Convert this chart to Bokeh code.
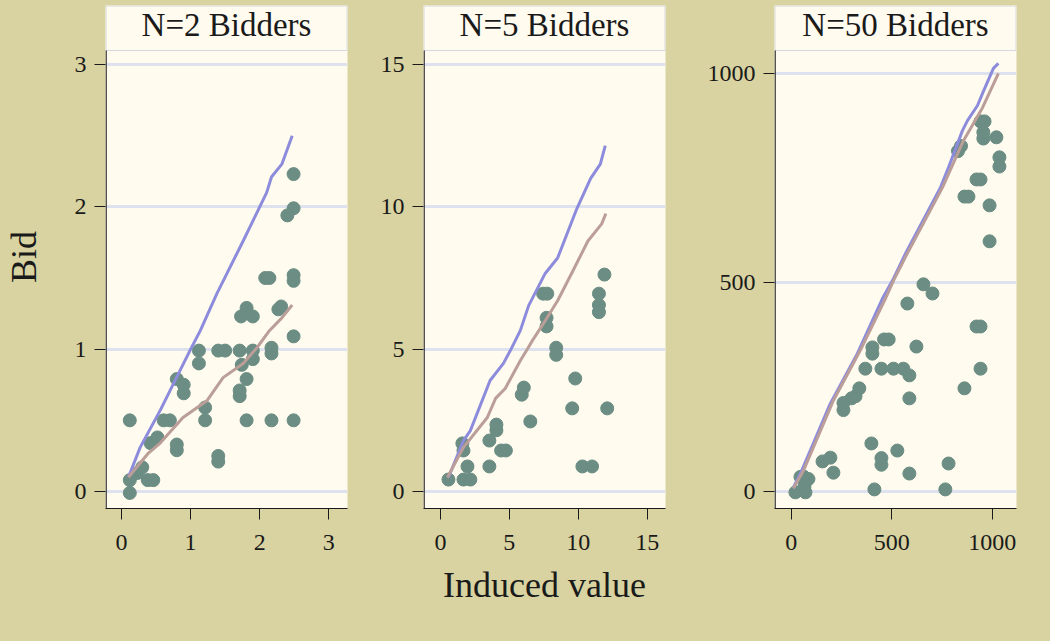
from bokeh.plotting import figure
from bokeh.layouts import row
from bokeh.models import FixedTicker, Range1d
from bokeh.core.properties import value
from bokeh.embed import file_html
from bokeh.resources import INLINE

# ---------------- data ----------------
titles = ["N=2 Bidders", "N=5 Bidders", "N=50 Bidders"]

p1_value = [0.12, 0.12, 0.12, 0.23, 0.30, 0.38, 0.46, 0.42, 0.52, 0.61, 0.70, 0.80, 0.80, 0.80,
            0.90, 0.90, 1.12, 1.12, 1.21, 1.21, 1.40, 1.40, 1.40, 1.50, 1.71, 1.74, 1.81, 1.71,
            1.71, 1.81, 1.90, 1.90, 2.17, 2.17, 2.17, 2.49, 2.49, 2.49, 2.49, 2.40, 2.08, 2.14,
            2.49, 2.49, 1.81, 1.73, 1.90, 2.27, 2.31]
p1_bid = [0.50, -0.01, 0.08, 0.13, 0.17, 0.08, 0.08, 0.34, 0.38, 0.50, 0.50, 0.29, 0.33, 0.79,
          0.75, 0.69, 0.99, 0.90, 0.59, 0.50, 0.21, 0.25, 0.99, 0.99, 0.99, 0.89, 0.79, 0.67,
          0.71, 0.50, 0.99, 0.93, 0.97, 1.01, 0.50, 0.50, 1.09, 2.23, 1.99, 1.94, 1.50, 1.50,
          1.48, 1.52, 1.29, 1.23, 1.23, 1.28, 1.30]
p1_line1_x = [0.10, 0.27, 0.56, 0.99, 1.14, 1.38, 1.76, 1.90, 2.10, 2.17, 2.32, 2.47]
p1_line1_y = [0.10, 0.31, 0.57, 0.99, 1.13, 1.39, 1.76, 1.90, 2.10, 2.21, 2.30, 2.50]
p1_line2_x = [0.10, 0.27, 0.39, 0.56, 0.89, 1.24, 1.47, 1.76, 1.96, 2.14, 2.32, 2.47]
p1_line2_y = [0.10, 0.20, 0.27, 0.34, 0.52, 0.64, 0.80, 0.90, 1.01, 1.13, 1.22, 1.31]

p2_value = [0.58, 1.59, 1.67, 1.96, 1.67, 2.17, 3.55, 3.55, 4.06, 4.06, 4.40, 4.75, 5.90, 6.05,
            6.52, 8.40, 8.40, 9.78, 9.56, 12.1, 10.3, 11.0, 7.45, 7.75, 7.70, 7.70, 11.9, 11.5,
            11.5, 11.5]
p2_bid = [0.42, 1.69, 1.44, 0.88, 0.42, 0.42, 1.79, 0.88, 2.15, 2.35, 1.44, 1.44, 3.40, 3.65,
          2.46, 4.80, 5.05, 3.97, 2.92, 2.92, 0.88, 0.88, 6.95, 6.95, 5.80, 6.10, 7.62, 6.95,
          6.30, 6.55]
p2_line1_x = [0.58, 1.67, 2.17, 3.60, 4.57, 5.07, 5.80, 6.40, 7.60, 8.50, 9.90, 10.9, 11.6, 11.96]
p2_line1_y = [0.49, 1.79, 2.14, 3.90, 4.50, 4.95, 5.66, 6.53, 7.66, 8.20, 9.94, 11.0, 11.5, 12.15]
p2_line2_x = [0.50, 1.67, 3.40, 4.00, 4.70, 5.80, 6.30, 6.67, 7.60, 8.50, 9.56, 10.7, 11.7, 12.0]
p2_line2_y = [0.49, 1.55, 2.60, 3.27, 3.62, 4.60, 5.00, 5.30, 6.00, 6.70, 7.70, 8.80, 9.40, 9.76]

p3_value = [21, 71, 71, 46, 86, 66, 61, 156, 195, 210, 260, 260, 300, 320, 339, 369, 404, 404,
            462, 485, 449, 509, 558, 588, 588, 623, 578, 658, 703, 399, 449, 449, 528, 588, 414,
            767, 783, 862, 922, 942, 942, 942, 962, 956, 956, 1021, 1036, 1036, 830, 845, 922,
            942, 862, 882, 987, 987]
p3_bid = [-2, -2, 26, 35, 30, 12, 36, 72, 81, 45, 195, 212, 223, 228, 247, 294, 330, 345, 364,
          364, 294, 294, 294, 278, 223, 347, 450, 496, 474, 115, 64, 80, 98, 43, 5, 5, 67, 247,
          395, 395, 294, 886, 886, 845, 860, 848, 800, 778, 815, 827, 747, 747, 706, 706, 685,
          599]
p3_line1_x = [11, 46, 195, 329, 454, 504, 569, 743, 783, 852, 877, 927, 952, 1006, 1031]
p3_line1_y = [10, 43, 211, 330, 462, 505, 570, 728, 776, 864, 888, 924, 953, 1013, 1025]
p3_line2_x = [11, 61, 210, 344, 469, 509, 578, 753, 857, 952, 1031]
p3_line2_y = [7, 50, 218, 338, 462, 505, 570, 728, 840, 919, 1001]

p1_xticks = [0, 1, 2, 3]
p1_yticks = [0, 1, 2, 3]
p2_xticks = [0, 5, 10, 15]
p2_yticks = [0, 5, 10, 15]
p3_xticks = [0, 500, 1000]
p3_yticks = [0, 500, 1000]

# ---------------- style ----------------
FONT = "Liberation Serif"
BG = "#d8d3a0"
PANEL = "#fffbef"
GRID = "#dde2ee"
STRIP_LINE = "#d3d8e2"
DOT = "#6b8d83"
BLUE = "#8d8cdc"
BROWN = "#bb9e98"
INK = "#1a1a1a"

FIG_H = 641
TOP = 5          # strip starts here
BOTTOM = 133     # space below the plot frame
FRAME_W = 242
FRAME_H = FIG_H - TOP - BOTTOM
STRIP_H = 45
BASELINE = 19    # title baseline below frame top


def make_panel(title, xs, ys, l1x, l1y, l2x, l2y, xr, yr, xt, yt, width, bl, br,
               xlabel=None, ylabel=None):
    x0, x1 = xr
    y0, y1 = yr
    ppx = (x1 - x0) / FRAME_W
    ppy = (y1 - y0) / FRAME_H
    strip_bottom = y1 - STRIP_H * ppy

    p = figure(width=width, height=FIG_H, x_range=Range1d(x0, x1), y_range=Range1d(y0, y1),
               toolbar_location=None, output_backend="svg", title=None,
               min_border_left=bl, min_border_right=br, min_border_top=TOP,
               min_border_bottom=BOTTOM)
    p.background_fill_color = PANEL
    p.border_fill_color = BG
    p.outline_line_color = None
    p.xgrid.visible = False
    p.ygrid.grid_line_color = GRID
    p.ygrid.grid_line_width = 3
    p.xaxis.ticker = FixedTicker(ticks=xt)
    p.yaxis.ticker = FixedTicker(ticks=yt)
    for ax in (p.xaxis, p.yaxis):
        ax.axis_line_color = INK
        ax.axis_line_width = 1
        ax.major_tick_line_color = INK
        ax.major_tick_out = 11
        ax.major_tick_in = 0
        ax.minor_tick_line_color = None
        ax.major_label_text_font = FONT
        ax.major_label_text_font_size = "24px"
        ax.major_label_text_color = INK
        ax.axis_label_text_font = FONT
        ax.axis_label_text_font_size = "36px"
        ax.axis_label_text_font_style = "normal"
        ax.axis_label_text_color = INK
    p.xaxis.major_label_standoff = 15
    p.yaxis.major_label_standoff = 8
    p.yaxis.axis_line_color = None
    if xlabel:
        p.xaxis.axis_label = xlabel
        p.xaxis.axis_label_standoff = 12
    if ylabel:
        p.yaxis.axis_label = ylabel
        p.yaxis.axis_label_standoff = 28

    # title strip
    p.quad(left=[x0 + 0.5 * ppx], right=[x1 - 0.5 * ppx], bottom=[strip_bottom],
           top=[y1 - 0.5 * ppy], fill_color=PANEL, line_color=STRIP_LINE, line_width=1)
    p.text(x=[(x0 + x1) / 2], y=[y1 - BASELINE * ppy], text=[title], text_font=value(FONT),
           text_font_size="33px", text_align="center", text_baseline="alphabetic",
           text_color=INK)
    # y axis line (below the strip only)
    p.segment(x0=[x0 + 0.6 * ppx], y0=[y0], x1=[x0 + 0.6 * ppx], y1=[strip_bottom],
              line_color=INK, line_width=1.3)

    p.scatter(xs, ys, size=13, color=DOT, line_color=DOT)
    p.line(l1x, l1y, line_color=BLUE, line_width=3, line_join="round")
    p.line(l2x, l2y, line_color=BROWN, line_width=3, line_join="round")
    return p


f1 = make_panel(titles[0], p1_value, p1_bid, p1_line1_x, p1_line1_y, p1_line2_x, p1_line2_y,
                (-0.2315, 3.27), (-0.1194, 3.4146), p1_xticks, p1_yticks, 375, 105, 28,
                ylabel="Bid")
f2 = make_panel(titles[1], p2_value, p2_bid, p2_line1_x, p2_line1_y, p2_line2_x, p2_line2_y,
                (-1.23, 16.33), (-0.5972, 17.072), p2_xticks, p2_yticks, 329, 48, 39,
                xlabel="Induced value")
f3 = make_panel(titles[2], p3_value, p3_bid, p3_line1_x, p3_line1_y, p3_line2_x, p3_line2_y,
                (-83, 1121), (-40.7, 1163.5), p3_xticks, p3_yticks, 346, 70, 34)

layout = row(f1, f2, f3, spacing=0, styles={"background-color": BG})
open("out.html", "w").write(file_html(layout, INLINE))
